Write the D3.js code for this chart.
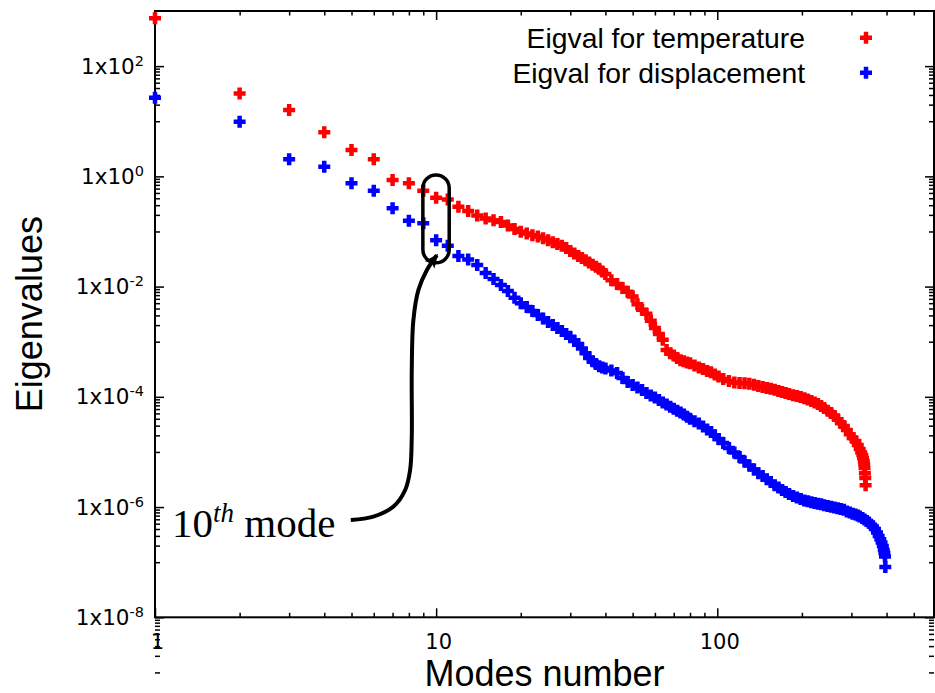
<!DOCTYPE html>
<html>
<head>
<meta charset="utf-8">
<script src="https://cdn.jsdelivr.net/npm/d3@7"></script>
<style>
  body { margin: 0; background: #fff; }
  svg { display: block; }
</style>
</head>
<body>
<svg id="chart"></svg>
<script>
// Eigenvalues per mode
const tempModes = [1,2,3,4,5,6,7,8,9,10,11,12,13,14,15,16,17,18,19,20,21,22,23,24,25,26,27,28,29,30,31,32,33,34,35,36,37,38,39,40,
  42,44,46,48,50,52,54,56,58,60,62,64,66,68,70,72,74,76,78,80,83,86,89,92,95,98,101,105,110,115,120,125,130,135,140,145,150,155,160,165,170,175,180,
  186,192,198,204,210,216,222,228,234,240,247,254,261,268,275,282,289,296,303,310,316,321,325,328,330,332,333,334,335,336,337];
const tempValues = [740,32,16,6.3,3.0,2.05,0.86,0.75,0.55,0.41,0.38,0.28,0.235,0.195,0.172,0.16,0.148,0.128,0.111,0.099,
  0.092,0.085,0.081,0.075,0.069,0.064,0.059,0.055,0.050,0.044,0.040,0.036,0.033,0.030,0.0275,0.025,0.023,0.021,0.0188,0.017,
  0.013,0.0112,0.0094,0.0081,0.0066,0.0048,0.0038,0.0032,0.0024,0.00177,0.00138,0.00108,7.1e-4,6.2e-4,5.6e-4,5.05e-4,4.6e-4,4.4e-4,4.2e-4,4.05e-4,
  3.7e-4,3.4e-4,3.2e-4,2.95e-4,2.8e-4,2.55e-4,2.34e-4,2.1e-4,1.93e-4,1.82e-4,1.79e-4,1.76e-4,1.72e-4,1.66e-4,1.57e-4,1.5e-4,1.44e-4,1.4e-4,1.34e-4,1.28e-4,1.22e-4,1.17e-4,1.13e-4,
  1.07e-4,1.03e-4,9.9e-5,9.4e-5,8.9e-5,8.4e-5,7.9e-5,7.4e-5,6.8e-5,6.3e-5,5.6e-5,5.1e-5,4.5e-5,3.9e-5,3.35e-5,2.95e-5,2.5e-5,2.1e-5,1.8e-5,1.58e-5,
  1.33e-5,1.13e-5,9.75e-6,8.8e-6,7.75e-6,6.8e-6,6.0e-6,5.1e-6,4.1e-6,3.35e-6,2.5e-6];

const dispModes = [1,2,3,4,5,6,7,8,9,10,11,12,13,14,15,16,17,18,19,20,21,22,23,24,25,26,27,28,29,30,31,32,33,34,35,36,37,38,39,40,
  42,44,46,48,50,52,54,56,58,60,62,64,66,68,70,72,74,76,78,80,83,86,89,92,95,98,101,105,110,115,120,125,130,135,140,145,150,155,160,165,170,175,180,
  186,192,198,204,210,216,222,228,234,240,247,254,261,268,275,282,289,296,303,310,316,321,328,334,340,346,352,358,364,370,375,380,384,388,391,393,395,396];
const dispValues = [26.8,9.8,2.05,1.49,0.75,0.55,0.263,0.157,0.141,0.069,0.055,0.036,0.031,0.0247,0.0177,0.0137,0.0107,8.3e-3,6.3e-3,4.97e-3,
  4.25e-3,3.6e-3,3.05e-3,2.64e-3,2.28e-3,2.0e-3,1.77e-3,1.57e-3,1.38e-3,1.23e-3,1.03e-3,9.1e-4,7.5e-4,6.2e-4,5.05e-4,4.4e-4,3.95e-4,3.6e-4,3.4e-4,3.27e-4,
  3.0e-4,2.7e-4,2.2e-4,1.86e-4,1.64e-4,1.48e-4,1.33e-4,1.17e-4,1.06e-4,9.7e-5,8.75e-5,7.9e-5,7.25e-5,6.6e-5,6.1e-5,5.6e-5,5.2e-5,4.8e-5,4.35e-5,4.0e-5,
  3.6e-5,3.28e-5,2.9e-5,2.55e-5,2.3e-5,2.0e-5,1.72e-5,1.45e-5,1.18e-5,9.75e-6,8.1e-6,6.7e-6,5.65e-6,4.8e-6,4.1e-6,3.65e-6,3.2e-6,2.85e-6,2.5e-6,2.26e-6,2.04e-6,1.87e-6,1.72e-6,
  1.58e-6,1.49e-6,1.4e-6,1.32e-6,1.27e-6,1.22e-6,1.18e-6,1.15e-6,1.12e-6,1.08e-6,1.05e-6,1.01e-6,9.8e-7,9.5e-7,9.2e-7,8.9e-7,8.3e-7,8.0e-7,7.6e-7,7.3e-7,
  7.0e-7,6.75e-7,6.3e-7,5.95e-7,5.6e-7,5.26e-7,4.8e-7,4.45e-7,4.0e-7,3.45e-7,3.0e-7,2.6e-7,2.28e-7,1.97e-7,1.66e-7,1.47e-7,1.27e-7,8.2e-8];

// Tick values
const xMajorTicks = [1, 10, 100];
const xMinorTicks = [2,3,4,5,6,7,8,9,20,30,40,50,60,70,80,90,200,300,400,500];
const yMajorExps = [-8, -6, -4, -2, 0, 2];
const yMinorExps = [-9, -7, -5, -3, -1, 1];

const legendLabels = ["Eigval for temperature", "Eigval for displacement"];
const seriesColors = ["#ff0000", "#0000ff"];

// 10th mode annotation (in data coordinates)
const boxModes = [8.97, 11.13];
const boxValues = [1.06, 0.027];
const arrowModes = [4.97, 5.98, 7.05, 7.76, 8.08, 8.19, 8.19, 8.30, 8.65, 9.27, 10.06];
const arrowValues = [5.8e-7, 6.7e-7, 1.02e-6, 2.04e-6, 4.7e-6, 1.89e-5, 3.07e-4, 2.48e-3, 8.7e-3, 0.02, 0.037];

// Chart dimensions
const W = 935, H = 693;
const margin = { top: 11, right: 1, bottom: 75.7, left: 155 };
const x0 = margin.left, x1 = W - margin.right;
const y0 = H - margin.bottom, y1 = margin.top;

const svg = d3.select("#chart").attr("width", W).attr("height", H);

const x = d3.scaleLog().domain([1, 590]).range([x0, x1]);
const y = d3.scaleLog().domain([1e-8, 1e3]).range([y0, y1]);

const yMajorTicks = yMajorExps.map((e) => Math.pow(10, e));
const yMinorTicks = [];
yMinorExps.forEach((e) => {
  for (let k = 1; k <= 9; k++) yMinorTicks.push(k * Math.pow(10, e));
});

// Axes with inward ticks on all four sides
function styleAxis(g) {
  g.select(".domain").remove();
  g.selectAll(".tick line").attr("stroke", "#000").attr("stroke-width", 1.5);
}

svg.append("g").attr("transform", `translate(0,${y0})`)
  .call(d3.axisBottom(x).tickValues(xMinorTicks).tickSize(-4.5).tickFormat(""))
  .call(styleAxis);
const gx = svg.append("g").attr("transform", `translate(0,${y0})`)
  .call(d3.axisBottom(x).tickValues(xMajorTicks).tickSize(-9).tickFormat(d3.format("d")))
  .call(styleAxis);
gx.selectAll("text")
  .attr("y", 32).attr("dy", null).attr("dx", 2)
  .attr("fill", "#000")
  .style("font-family", "'DejaVu Sans', sans-serif")
  .style("font-size", "21px");

svg.append("g").attr("transform", `translate(0,${y1})`)
  .call(d3.axisTop(x).tickValues(xMinorTicks).tickSize(-4.5).tickFormat(""))
  .call(styleAxis);
svg.append("g").attr("transform", `translate(0,${y1})`)
  .call(d3.axisTop(x).tickValues(xMajorTicks).tickSize(-9).tickFormat(""))
  .call(styleAxis);

svg.append("g").attr("transform", `translate(${x0},0)`)
  .call(d3.axisLeft(y).tickValues(yMinorTicks).tickSize(-5).tickFormat(""))
  .call(styleAxis);
const gy = svg.append("g").attr("transform", `translate(${x0},0)`)
  .call(d3.axisLeft(y).tickValues(yMajorTicks).tickSize(-9).tickPadding(11).tickFormat(""))
  .call(styleAxis);

gy.selectAll(".tick text")
  .attr("fill", "#000")
  .attr("dy", "0.33em")
  .style("font-family", "'DejaVu Sans', sans-serif")
  .style("font-size", "21.5px")
  .each(function (d, i) {
    const t = d3.select(this);
    t.append("tspan").text("1x10");
    t.append("tspan").attr("dy", -8).style("font-size", "14.5px").text(yMajorExps[i]);
  });

svg.append("g").attr("transform", `translate(${x1},0)`)
  .call(d3.axisRight(y).tickValues(yMinorTicks).tickSize(-5).tickFormat(""))
  .call(styleAxis);
svg.append("g").attr("transform", `translate(${x1},0)`)
  .call(d3.axisRight(y).tickValues(yMajorTicks).tickSize(-9).tickFormat(""))
  .call(styleAxis);

// Frame
svg.append("rect")
  .attr("x", x0).attr("y", y1)
  .attr("width", x1 - x0).attr("height", y0 - y1)
  .attr("fill", "none").attr("stroke", "#000").attr("stroke-width", 2);

// Axis titles
svg.append("text")
  .attr("x", (x0 + x1) / 2).attr("y", 686)
  .attr("text-anchor", "middle")
  .style("font-family", "'Liberation Sans', Arial, sans-serif")
  .style("font-size", "36px")
  .text("Modes number");

svg.append("text")
  .attr("transform", `translate(42,${(y0 + y1) / 2}) rotate(-90)`)
  .attr("text-anchor", "middle")
  .style("font-family", "'Liberation Sans', Arial, sans-serif")
  .style("font-size", "36px")
  .text("Eigenvalues");

// Points
const plus = "M-6,0H6M0,-6V6";
const series = [
  { modes: tempModes, values: tempValues },
  { modes: dispModes, values: dispValues },
];
series.forEach((s, i) => {
  svg.append("g")
    .selectAll("path")
    .data(d3.zip(s.modes, s.values))
    .join("path")
    .attr("d", plus)
    .attr("transform", (d) => `translate(${x(d[0])},${y(d[1])})`)
    .attr("fill", "none")
    .attr("stroke", seriesColors[i])
    .attr("stroke-width", 4.5);
});

// Legend
legendLabels.forEach((label, i) => {
  const ly = 37.7 + i * 35;
  svg.append("text")
    .attr("x", 805).attr("y", ly + 10)
    .attr("text-anchor", "end")
    .style("font-family", "'Liberation Sans', Arial, sans-serif")
    .style("font-size", "28.3px")
    .text(label);
  svg.append("path")
    .attr("d", plus)
    .attr("transform", `translate(866,${ly})`)
    .attr("fill", "none")
    .attr("stroke", seriesColors[i])
    .attr("stroke-width", 4.5);
});

// Annotation: box around 10th mode, arrow and label
const bx0 = x(boxModes[0]), bx1 = x(boxModes[1]);
const by0 = y(boxValues[0]), by1 = y(boxValues[1]);
svg.append("rect")
  .attr("x", bx0).attr("y", by0)
  .attr("width", bx1 - bx0).attr("height", by1 - by0)
  .attr("rx", (bx1 - bx0) / 2).attr("ry", (bx1 - bx0) / 2)
  .attr("fill", "none").attr("stroke", "#000").attr("stroke-width", 3.5);

svg.append("defs").append("marker")
  .attr("id", "head")
  .attr("viewBox", "-14 -7 16 14")
  .attr("refX", 0).attr("refY", 0)
  .attr("markerWidth", 16).attr("markerHeight", 14)
  .attr("markerUnits", "userSpaceOnUse")
  .attr("orient", "auto")
  .append("path")
  .attr("d", "M-12,-6L2,0L-12,6L-9,0Z")
  .attr("fill", "#000");

const arrowLine = d3.line()
  .x((d) => x(d[0]))
  .y((d) => y(d[1]))
  .curve(d3.curveCatmullRom.alpha(0.5));
svg.append("path")
  .attr("d", arrowLine(d3.zip(arrowModes, arrowValues)))
  .attr("fill", "none")
  .attr("stroke", "#000")
  .attr("stroke-width", 4)
  .attr("marker-end", "url(#head)");

const note = svg.append("text")
  .attr("x", 172).attr("y", 537)
  .style("font-family", "'Liberation Serif', 'DejaVu Serif', serif")
  .style("font-size", "41px");
note.append("tspan").text("10");
note.append("tspan").attr("dy", -15).style("font-style", "italic").style("font-size", "27px").text("th");
note.append("tspan").attr("dy", 15).text(" mode");
</script>
</body>
</html>
